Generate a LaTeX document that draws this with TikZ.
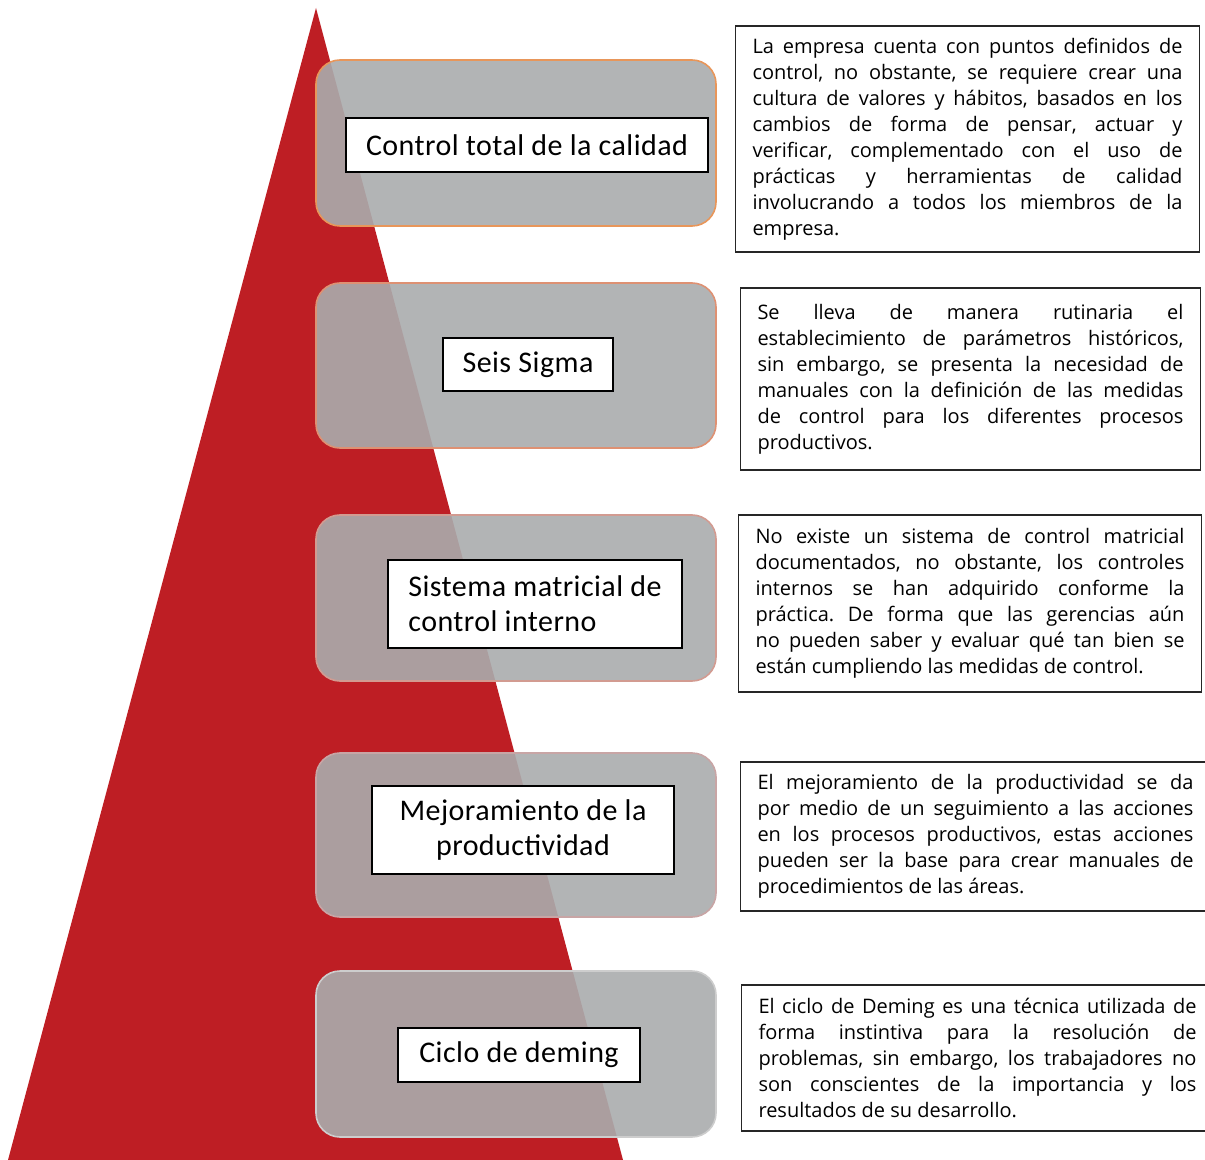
\documentclass[tikz,border=0pt]{standalone}
\usepackage{fontspec}
\setmainfont{Open Sans}
\newfontfamily\namefont[LetterSpace=1.5]{Carlito}
\usepackage{xcolor}
\usepackage{tikz}
\usetikzlibrary{positioning}

\definecolor{pyred}{RGB}{190,30,36}
\definecolor{stagegray}{RGB}{170,172,173}
\definecolor{edgeA}{RGB}{232,150,90}
\definecolor{edgeB}{RGB}{222,145,115}
\definecolor{edgeC}{RGB}{210,155,145}
\definecolor{edgeD}{RGB}{200,165,165}
\definecolor{edgeE}{RGB}{205,205,205}
\frenchspacing

\begin{document}
\begin{tikzpicture}[
    x=0.5pt, y=-0.5pt,
    stage/.style={rectangle, rounded corners=12pt, fill=stagegray, fill opacity=0.9, line width=0.8pt, minimum width=200pt, minimum height=83pt},
    stagename/.style={rectangle, draw=black, fill=white, line width=0.8pt, inner sep=0pt, align=center, font=\namefont\fontsize{15}{17.5}\selectfont},
    note/.style={rectangle, draw=black!85, line width=0.7pt, fill=white, inner xsep=8.5pt, align=justify, font=\frenchspacing\fontsize{10}{13}\selectfont}
]
\useasboundingbox (0,0) rectangle (1205,1160);

% pyramid
\fill[pyred] (316,8) -- (623,1160) -- (8,1160) -- cycle;

% stages
\node[stage, draw=edgeA] (ctc) at (516,143) {};
\node[stage, draw=edgeB, minimum height=82.5pt] (six) at (516,365.5) {};
\node[stage, draw=edgeC] (matrix) at (516,598) {};
\node[stage, draw=edgeD, minimum height=82pt] (prod) at (516,835) {};
\node[stage, draw=edgeE] (deming) at (516,1054) {};

\node[stagename, minimum width=181pt, minimum height=27pt] (ctcname) at (527,145) {Control total de la calidad};
\node[stagename, minimum width=85pt, minimum height=26.5pt] (sixname) at (528,364.5) {Seis Sigma};
\node[stagename, minimum width=147pt, minimum height=44pt, align=left] (matrixname) at (535,604) {Sistema matricial de\\control interno};
\node[stagename, minimum width=151pt, minimum height=44pt] (prodname) at (523,830) {Mejoramiento de la\\productividad};
\node[stagename, minimum width=121pt, minimum height=27pt] (demingname) at (519,1055) {Ciclo de deming};

% notes
\node[note, text width=215pt, minimum height=113pt, right=9pt of ctc, yshift=2pt] (ctcnote) {La empresa cuenta con puntos definidos de\linebreak control, no obstante, se requiere crear una\linebreak cultura de valores y hábitos, basados en los\linebreak cambios de forma de pensar, actuar y\linebreak verificar, complementado con el uso de\linebreak prácticas y herramientas de calidad\linebreak involucrando a todos los miembros de la\linebreak empresa.};
\node[note, text width=213pt, minimum height=91pt, right=11.5pt of six, yshift=-6.75pt] (sixnote) {Se lleva de manera rutinaria el\linebreak establecimiento de parámetros históricos,\linebreak sin embargo, se presenta la necesidad de\linebreak manuales con la definición de las medidas\linebreak de control para los diferentes procesos\linebreak productivos.};
\node[note, text width=214.5pt, minimum height=88.5pt, right=10.5pt of matrix, yshift=-2.75pt] (matrixnote) {No existe un sistema de control matricial\linebreak documentados, no obstante, los controles\linebreak internos se han adquirido conforme la\linebreak práctica. De forma que las gerencias aún\linebreak no pueden saber y evaluar qué tan bien se\linebreak están cumpliendo las medidas de control.};
\node[note, text width=218pt, minimum height=74.5pt, right=11.5pt of prod, yshift=-0.75pt] (prodnote) {El mejoramiento de la productividad se da\linebreak por medio de un seguimiento a las acciones\linebreak en los procesos productivos, estas acciones\linebreak pueden ser la base para crear manuales de\linebreak procedimientos de las áreas.};
\node[note, text width=219pt, minimum height=73pt, right=12pt of deming, yshift=-2pt] (demingnote) {El ciclo de Deming es una técnica utilizada de\linebreak forma instintiva para la resolución de\linebreak problemas, sin embargo, los trabajadores no\linebreak son conscientes de la importancia y los\linebreak resultados de su desarrollo.};

\end{tikzpicture}
\end{document}
